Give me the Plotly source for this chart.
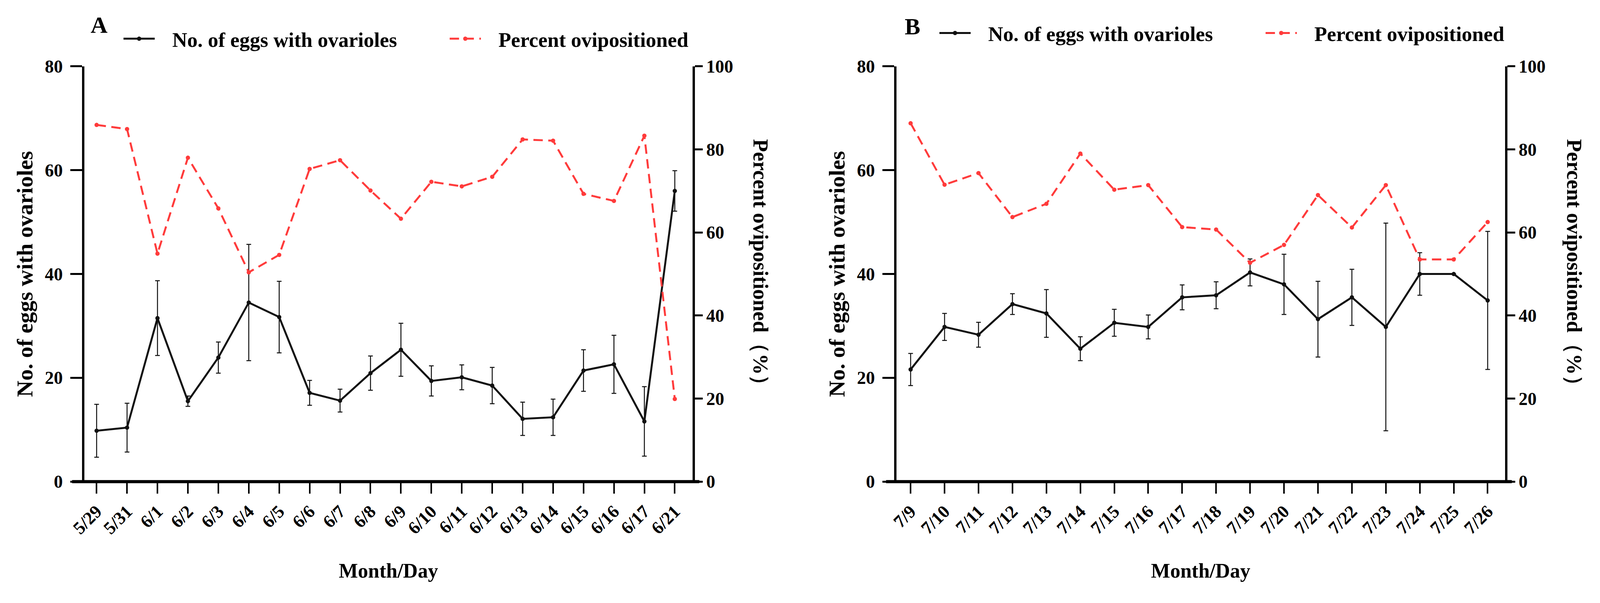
import plotly.graph_objects as go

# ---------------- data ----------------
dates_A = ["5/29", "5/31", "6/1", "6/2", "6/3", "6/4", "6/5", "6/6", "6/7", "6/8",
           "6/9", "6/10", "6/11", "6/12", "6/13", "6/14", "6/15", "6/16", "6/17", "6/21"]
eggs_A = [9.8, 10.4, 31.5, 15.5, 23.9, 34.5, 31.7, 17.1, 15.6, 20.9,
          25.4, 19.4, 20.1, 18.5, 12.1, 12.4, 21.4, 22.6, 11.6, 56.0]
eggs_err_A = [5.1, 4.7, 7.2, 1.0, 3.0, 11.2, 6.9, 2.4, 2.2, 3.3,
              5.1, 2.9, 2.4, 3.5, 3.2, 3.5, 4.0, 5.6, 6.7, 3.9]
pct_A = [85.9, 84.9, 54.9, 78.0, 65.8, 50.4, 54.6, 75.3, 77.4, 70.1,
         63.3, 72.2, 71.1, 73.4, 82.4, 82.1, 69.3, 67.6, 83.3, 19.9]

dates_B = ["7/9", "7/10", "7/11", "7/12", "7/13", "7/14", "7/15", "7/16", "7/17",
           "7/18", "7/19", "7/20", "7/21", "7/22", "7/23", "7/24", "7/25", "7/26"]
eggs_B = [21.6, 29.8, 28.3, 34.2, 32.4, 25.6, 30.6, 29.8, 35.5,
          35.9, 40.3, 38.0, 31.3, 35.5, 29.8, 40.0, 40.0, 34.9]
eggs_err_B = [3.1, 2.6, 2.4, 2.0, 4.6, 2.3, 2.6, 2.3, 2.4,
              2.6, 2.6, 5.8, 7.3, 5.4, 20.0, 4.1, 0.0, 13.3]
pct_B = [86.3, 71.5, 74.3, 63.7, 66.9, 79.0, 70.3, 71.4, 61.3,
         60.7, 52.7, 57.0, 69.0, 61.2, 71.4, 53.5, 53.5, 62.5]

name_eggs = "No. of eggs with ovarioles"
name_pct = "Percent ovipositioned"
left_title = "No. of eggs with ovarioles"
right_title = "Percent ovipositioned（%）"
x_title = "Month/Day"

# ---------------- style ----------------
W, H = 4173, 1544
FONT = "Liberation Serif"
RED = "#FF3B3B"
BLACK = "#111111"
GAP = "\u00a0\u00a0\u00a0"  # extra space between legend symbol and text

def font(size, color="black"):
    return dict(family=FONT, size=size, color=color, weight="bold")

fig = go.Figure()

def add_panel(dates, eggs, err, pct, xa, ya, ya2, legend):
    fig.add_trace(go.Scatter(
        x=dates, y=eggs, name=GAP + name_eggs, mode="lines+markers",
        line=dict(color=BLACK, width=5),
        marker=dict(color=BLACK, size=11),
        error_y=dict(type="data", array=err, visible=True, color=BLACK,
                     thickness=2.5, width=6),
        xaxis=xa, yaxis=ya, legend=legend))
    fig.add_trace(go.Scatter(
        x=dates, y=pct, name=GAP + name_pct, mode="lines+markers",
        line=dict(color=RED, width=5, dash="24px,14px"),
        marker=dict(color=RED, size=11),
        xaxis=xa, yaxis=ya2, legend=legend))

add_panel(dates_A, eggs_A, eggs_err_A, pct_A, "x", "y", "y2", "legend")
add_panel(dates_B, eggs_B, eggs_err_B, pct_B, "x2", "y3", "y4", "legend2")

ydom = [288 / H, 1371 / H]
xdomA = [220 / W, 1806 / W]
xdomB = [2338 / W, 3925 / W]

def xaxis(dom, rng, anchor):
    return dict(domain=dom, type="category", range=rng, anchor=anchor,
                showline=False, showgrid=False, zeroline=False,
                ticks="outside", ticklen=30, tickwidth=4, tickcolor="black",
                tickangle=-45, tickfont=font(46),
                title=dict(text=x_title, font=font(52), standoff=66))

def yleft(anchor):
    return dict(domain=ydom, range=[0, 80], dtick=20, anchor=anchor,
                showline=True, linewidth=6, linecolor="black",
                showgrid=False, zeroline=False,
                ticks="outside", ticklen=30, tickwidth=5, tickcolor="black",
                tickfont=font(46), ticklabelstandoff=10,
                title=dict(text=left_title, font=font(58), standoff=14))

def yright(anchor, over):
    return dict(domain=ydom, range=[0, 100], dtick=20, anchor=anchor,
                overlaying=over, side="right",
                showline=True, linewidth=6, linecolor="black",
                showgrid=False, zeroline=False,
                ticks="outside", ticklen=20, tickwidth=5, tickcolor="black",
                tickfont=font(46))

def legend_cfg(x, y):
    return dict(orientation="h", x=x, y=y, xanchor="left", yanchor="middle",
                font=font(53), bgcolor="rgba(0,0,0,0)", itemwidth=80,
                entrywidth=740, entrywidthmode="pixels")

fig.update_layout(
    width=W, height=H, autosize=False,
    margin=dict(l=0, r=0, t=0, b=0, autoexpand=False),
    paper_bgcolor="white", plot_bgcolor="white",
    showlegend=True,
    xaxis=xaxis(xdomA, [-0.403, 19.58], "y"),
    yaxis=yleft("x"),
    yaxis2=yright("x", "y"),
    xaxis2=xaxis(xdomB, [-0.418, 17.508], "y3"),
    yaxis3=yleft("x2"),
    yaxis4=yright("x2", "y3"),
    legend=legend_cfg(317 / W, 1 - 101 / H),
    legend2=legend_cfg(2445 / W, 1 - 86 / H),
)

# extended bottom axis lines (as in the original, slightly past the y axes)
for x0, x1 in [(188, 1824), (2311, 3943)]:
    fig.add_shape(type="line", xref="paper", yref="paper",
                  x0=x0 / W, x1=x1 / W, y0=ydom[0], y1=ydom[0],
                  line=dict(color="black", width=8))

# right-hand titles (read top-to-bottom)
for xc in [1983, 4105]:
    fig.add_annotation(text=right_title, xref="paper", yref="paper",
                       x=xc / W, y=1 - 697 / H, showarrow=False,
                       xanchor="center", yanchor="middle",
                       textangle=90, font=font(54))

# panel letters
for txt, xc, yc in [("A", 258, 65), ("B", 2380, 69)]:
    fig.add_annotation(text=txt, xref="paper", yref="paper",
                       x=xc / W, y=1 - yc / H, showarrow=False,
                       xanchor="center", yanchor="middle",
                       font=font(60))

# fit the figure to the browser viewport width, keeping the original aspect
fit_js = (
    "var gd=document.getElementById('{plot_id}');"
    "document.documentElement.style.overflow='hidden';"
    "document.body.style.margin='0';document.body.style.overflow='hidden';"
    "var w=window.innerWidth,h=Math.round(w*%d/%d);"
    "gd.style.width=w+'px';gd.style.height=h+'px';"
    "return Plotly.relayout(gd,{width:w,height:h});" % (H, W)
)

fig.write_html("out.html", config={"displayModeBar": False}, post_script=fit_js)
